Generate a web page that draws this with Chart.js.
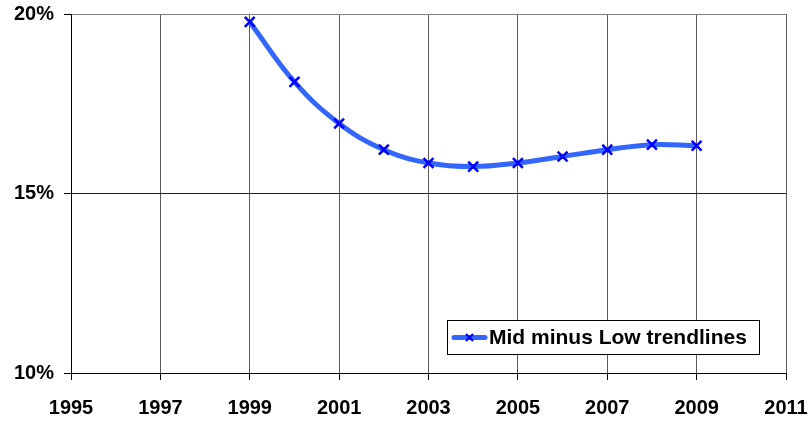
<!DOCTYPE html>
<html>
<head>
<meta charset="utf-8">
<script src="https://cdn.jsdelivr.net/npm/chart.js@4/dist/chart.umd.min.js"></script>
<style>
  html, body { margin: 0; padding: 0; background: #fff; }
  #wrap { width: 808px; height: 423px; position: relative; }
</style>
</head>
<body>
<div id="wrap"><canvas id="c" width="808" height="423"></canvas></div>
<script>
// Difference between the mid and low trendlines, in percent, by year
const years = [1999, 2000, 2001, 2002, 2003, 2004, 2005, 2006, 2007, 2008, 2009];
const midMinusLow = [19.78, 18.11, 16.95, 16.22, 15.85, 15.75, 15.85, 16.03, 16.22, 16.36, 16.33];
const seriesName = 'Mid minus Low trendlines';
const xTicks = [1995, 1997, 1999, 2001, 2003, 2005, 2007, 2009, 2011];
const yTicks = [10, 15, 20];

const FONT = '"Liberation Sans", Arial, sans-serif';
const LINE_COLOR = '#3366ff';
const MARK_COLOR = '#0000ff';

// Legend box drawn inside the plot area, lower right
const insideLegend = {
  id: 'insideLegend',
  afterDraw(chart) {
    const { ctx, chartArea } = chart;
    const w = 312, h = 34;
    const x = chartArea.right - 27 - w;
    const y = chartArea.bottom - 19 - h;
    ctx.save();
    ctx.fillStyle = '#fff';
    ctx.fillRect(x, y, w, h);
    ctx.strokeStyle = '#000';
    ctx.lineWidth = 1;
    ctx.strokeRect(x + 0.5, y + 0.5, w, h);
    const cy = y + h / 2 + 0.5;
    ctx.strokeStyle = LINE_COLOR;
    ctx.lineWidth = 5;
    ctx.lineCap = 'round';
    ctx.beginPath();
    ctx.moveTo(x + 7, cy);
    ctx.lineTo(x + 38, cy);
    ctx.stroke();
    ctx.strokeStyle = MARK_COLOR;
    ctx.lineWidth = 2;
    ctx.lineCap = 'butt';
    const mx = x + 22.5, r = 3.5;
    ctx.beginPath();
    ctx.moveTo(mx - r, cy - r); ctx.lineTo(mx + r, cy + r);
    ctx.moveTo(mx + r, cy - r); ctx.lineTo(mx - r, cy + r);
    ctx.stroke();
    ctx.fillStyle = '#000';
    ctx.font = 'bold 21px ' + FONT;
    ctx.textBaseline = 'middle';
    ctx.textAlign = 'left';
    ctx.fillText(seriesName, x + 42, cy + 1);
    ctx.restore();
  }
};

new Chart(document.getElementById('c'), {
  type: 'line',
  data: {
    datasets: [{
      label: seriesName,
      data: years.map((yr, i) => ({ x: yr, y: midMinusLow[i] })),
      borderColor: LINE_COLOR,
      borderWidth: 5,
      tension: 0.4,
      cubicInterpolationMode: 'default',
      pointStyle: 'crossRot',
      pointRadius: 7,
      pointBorderWidth: 2.5,
      pointBorderColor: MARK_COLOR,
      pointBackgroundColor: MARK_COLOR,
      fill: false
    }]
  },
  options: {
    responsive: false,
    animation: false,
    layout: { padding: { top: 14, right: 22, left: 0, bottom: 0 } },
    plugins: { legend: { display: false }, tooltip: { enabled: false } },
    scales: {
      x: {
        type: 'linear',
        min: 1995,
        max: 2011,
        afterBuildTicks(scale) { scale.ticks = xTicks.map(v => ({ value: v })); },
        afterFit(scale) {
          scale.height = 50;
          scale.paddingLeft = 0;
          scale.paddingRight = 0;
        },
        ticks: {
          color: '#000',
          font: { family: FONT, size: 20, weight: 'bold' },
          padding: 16,
          maxRotation: 0,
          autoSkip: false,
          callback: v => String(v)
        },
        grid: { color: '#5a5a5a', lineWidth: 1, tickLength: 7, tickColor: '#000' },
        border: { color: '#000', width: 1 }
      },
      y: {
        min: 10,
        max: 20,
        afterBuildTicks(scale) { scale.ticks = yTicks.map(v => ({ value: v })); },
        afterFit(scale) {
          scale.width = 71;
          scale.paddingTop = 0;
          scale.paddingBottom = 0;
        },
        ticks: {
          color: '#000',
          font: { family: FONT, size: 20, weight: 'bold' },
          padding: 10,
          callback: v => v + '%'
        },
        grid: { color: ctx => ctx.tick && ctx.tick.value === 20 ? '#808080' : '#222', lineWidth: 1, tickLength: 7, tickColor: '#000' },
        border: { color: '#000', width: 1 }
      }
    }
  },
  plugins: [insideLegend]
});
</script>
</body>
</html>
